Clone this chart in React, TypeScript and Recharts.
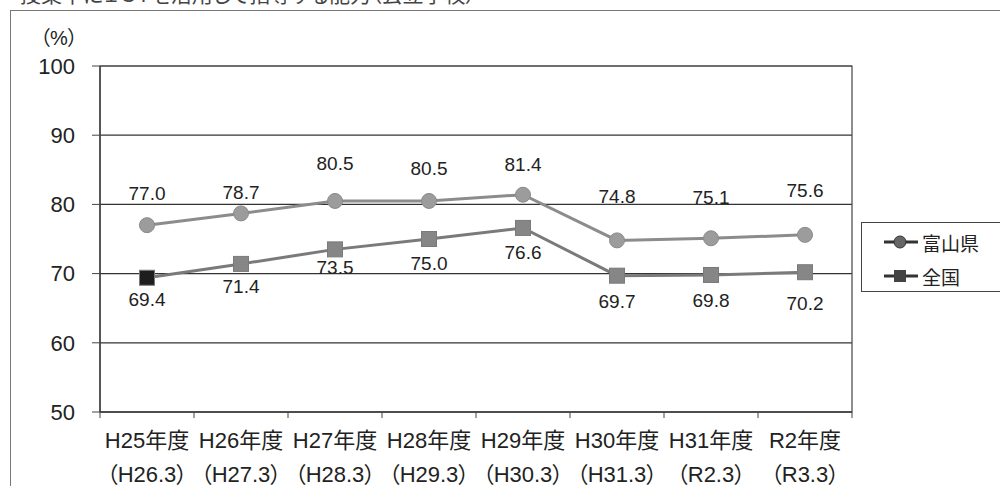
import React from "react";
import {
  LineChart,
  Line,
  XAxis,
  YAxis,
  CartesianGrid,
  LabelList,
  Legend,
  ReferenceArea,
} from "recharts";

// fiscal years and survey dates (two-line x labels)
const years = ["H25年度", "H26年度", "H27年度", "H28年度", "H29年度", "H30年度", "H31年度", "R2年度"];
const surveyDates = ["（H26.3）", "（H27.3）", "（H28.3）", "（H29.3）", "（H30.3）", "（H31.3）", "（R2.3）", "（R3.3）"];
const toyama = [77.0, 78.7, 80.5, 80.5, 81.4, 74.8, 75.1, 75.6];
const national = [69.4, 71.4, 73.5, 75.0, 76.6, 69.7, 69.8, 70.2];
const yTicks = [50, 60, 70, 80, 90, 100];

// label offsets (px) as placed in the original
const toyamaLabelDy = [-32, -21, -37, -32, -30, -44, -41, -44];
const nationalLabelDy = [22, 23, 18, 24, 25, 26, 26, 31];

const data = years.map((year, i) => ({
  year,
  date: surveyDates[i],
  toyama: toyama[i],
  national: national[i],
}));

const FONT = '"Liberation Sans", "Noto Sans CJK JP", sans-serif';
const TEXT = "#222";

// two-line category label, plus tick marks on the band edges (Excel style)
const XTick = (props: any) => {
  const { x, y, index, payload } = props;
  const half = payload?.offset ?? 47;
  return (
    <g>
      <line x1={x - half} y1={y} x2={x - half} y2={y + 6} stroke="#444" />
      {index === years.length - 1 && <line x1={x + half} y1={y} x2={x + half} y2={y + 6} stroke="#444" />}
      <text x={x} y={y} textAnchor="middle" fill={TEXT} fontSize={22}>
        <tspan x={x} dy={36}>{years[index]}</tspan>
        <tspan x={x} dy={34}>{surveyDates[index]}</tspan>
      </text>
    </g>
  );
};

const makeLabel = (offsets: number[]) => (props: any) => {
  const { x, y, index, value } = props;
  return (
    <text
      x={x}
      y={y + offsets[index]}
      textAnchor="middle"
      dominantBaseline="central"
      fill={TEXT}
      fontSize={19}
    >
      {Number(value).toFixed(1)}
    </text>
  );
};

const CircleDot = (props: any) => {
  const { cx, cy, index } = props;
  return <circle key={index} cx={cx} cy={cy} r={7.5} fill="#9c9c9c" stroke="#8a8a8a" strokeWidth={1} />;
};

const SquareDot = (props: any) => {
  const { cx, cy, index } = props;
  const fill = index === 0 ? "#1e1e1e" : "#868686";
  return <rect key={index} x={cx - 7.5} y={cy - 7.5} width={15} height={15} fill={fill} stroke="#7a7a7a" />;
};

const LegendBox = () => (
  <div
    style={{
      width: 150,
      height: 70,
      border: "1.5px solid #444",
      boxSizing: "border-box",
      background: "#fff",
      paddingTop: 5,
    }}
  >
    {[
      { name: "富山県", shape: "circle" },
      { name: "全国", shape: "square" },
    ].map((s) => (
      <div key={s.name} style={{ display: "flex", alignItems: "center", height: 28, marginLeft: 20, marginBottom: 6 }}>
        <svg width={38} height={20}>
          <line x1={2} y1={10} x2={36} y2={10} stroke="#333" strokeWidth={3} />
          {s.shape === "circle" ? (
            <circle cx={18} cy={10} r={6} fill="#666" stroke="#333" />
          ) : (
            <rect x={12} y={4} width={12} height={12} fill="#444" />
          )}
        </svg>
        <span style={{ fontSize: 19, color: TEXT, marginLeft: 2 }}>{s.name}</span>
      </div>
    ))}
  </div>
);

export default function App() {
  return (
    <div
      style={{
        position: "absolute",
        left: 0,
        top: 0,
        width: 1000,
        height: 486,
        background: "#fff",
        overflow: "hidden",
        fontFamily: FONT,
        fontFeatureSettings: '"palt"',
      }}
    >
      <div
        style={{
          position: "absolute",
          left: 20,
          top: -16,
          fontSize: 21,
          lineHeight: "21px",
          color: "#444",
          whiteSpace: "nowrap",
        }}
      >
        授業中にＩＣＴを活用して指導する能力（公立学校）
      </div>
      <div
        style={{
          position: "absolute",
          left: 10,
          top: 10,
          width: 1000,
          height: 500,
          borderTop: "1.5px solid #777",
          borderLeft: "1.5px solid #777",
        }}
      />
      <div style={{ position: "absolute", left: 40, top: 22, fontSize: 20, color: TEXT }}>（%）</div>
      <LineChart
        width={1000}
        height={486}
        data={data}
        margin={{ top: 66, right: 148, bottom: 0, left: 0 }}
        style={{ position: "absolute", left: 0, top: 0 }}
      >
        <CartesianGrid vertical={false} stroke="#333" strokeWidth={1.2} />
        <ReferenceArea y1={50} y2={100} fill="none" stroke="#444" strokeWidth={1.2} />
        <XAxis
          dataKey="year"
          scale="band"
          interval={0}
          tick={<XTick />}
          tickLine={false}
          tickSize={0}
          tickMargin={0}
          axisLine={{ stroke: "#444", strokeWidth: 1.5 }}
          height={74}
        />
        <YAxis
          domain={[50, 100]}
          ticks={yTicks}
          width={100}
          tickSize={8}
          tickMargin={17}
          axisLine={{ stroke: "#444", strokeWidth: 1.5 }}
          tickLine={{ stroke: "#444" }}
          tick={{ fill: TEXT, fontSize: 22 }}
        />
        <Legend
          layout="horizontal"
          verticalAlign="middle"
          align="center"
          content={<LegendBox />}
          wrapperStyle={{ left: 861, top: 222, width: 150 }}
        />
        <Line
          dataKey="toyama"
          name="富山県"
          stroke="#8c8c8c"
          strokeWidth={3}
          dot={<CircleDot />}
          activeDot={false}
          isAnimationActive={false}
        >
          <LabelList dataKey="toyama" content={makeLabel(toyamaLabelDy)} />
        </Line>
        <Line
          dataKey="national"
          name="全国"
          stroke="#7a7a7a"
          strokeWidth={3}
          dot={<SquareDot />}
          activeDot={false}
          isAnimationActive={false}
        >
          <LabelList dataKey="national" content={makeLabel(nationalLabelDy)} />
        </Line>
      </LineChart>
    </div>
  );
}
